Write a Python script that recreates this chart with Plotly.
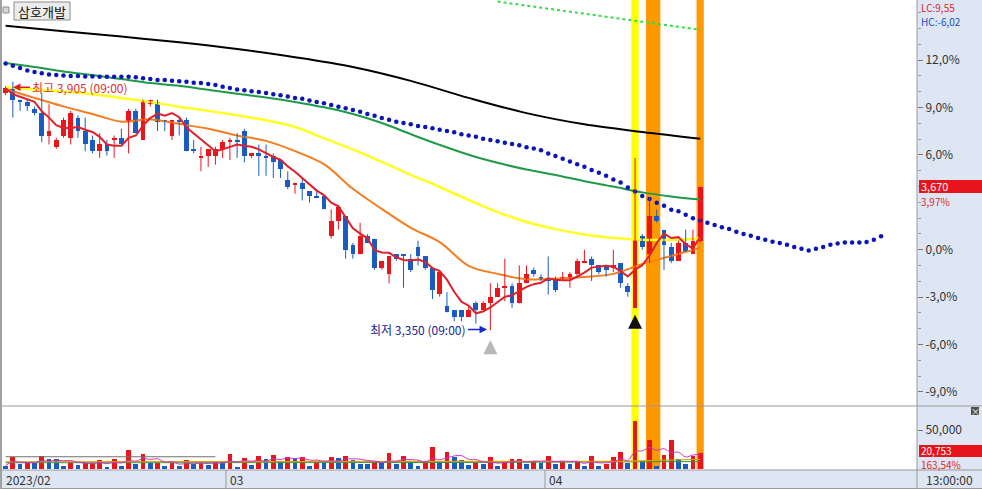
import plotly.graph_objects as go
import pandas as pd

BASE = 3530  # price corresponding to 0,0 %

open_ = [3880, 3890, 3865, 3860, 3845, 3835, 3785, 3760, 3785, 3780,
         3825, 3795, 3775, 3750, 3765, 3775, 3780, 3815, 3840, 3775,
         3855, 3860, 3820, 3785, 3820, 3820, 3755, 3735, 3740, 3740,
         3755, 3770, 3775, 3795, 3740, 3745, 3740, 3740, 3730, 3685,
         3675, 3680, 3660, 3650, 3650, 3560, 3595, 3605, 3540, 3520,
         3560, 3555, 3490, 3475, 3520, 3520, 3510, 3535, 3515, 3490,
         3430, 3405, 3395, 3395, 3380, 3410, 3395, 3410, 3425, 3445,
         3450, 3410, 3455, 3485, 3470, 3465, 3465, 3465, 3465, 3475,
         3500, 3510, 3495, 3495, 3490, 3500, 3450, 3400, 3560, 3520,
         3605, 3575, 3535, 3505, 3545, 3520, 3550]
high = [3895, 3905, 3865, 3865, 3850, 3880, 3855, 3780, 3825, 3840,
        3830, 3825, 3785, 3790, 3775, 3785, 3800, 3845, 3845, 3865,
        3865, 3865, 3820, 3820, 3825, 3825, 3775, 3760, 3755, 3760,
        3775, 3780, 3790, 3800, 3745, 3765, 3765, 3745, 3730, 3705,
        3680, 3690, 3660, 3665, 3650, 3620, 3630, 3605, 3545, 3590,
        3565, 3555, 3505, 3515, 3520, 3520, 3520, 3550, 3515, 3490,
        3485, 3435, 3395, 3395, 3405, 3415, 3415, 3455, 3455, 3510,
        3455, 3495, 3495, 3490, 3475, 3515, 3470, 3480, 3480, 3510,
        3530, 3515, 3495, 3495, 3530, 3500, 3455, 3735, 3565, 3645,
        3620, 3575, 3545, 3550, 3575, 3575, 3670]
low = [3875, 3825, 3840, 3840, 3830, 3770, 3765, 3755, 3780, 3765,
       3780, 3750, 3745, 3735, 3740, 3735, 3765, 3745, 3790, 3775,
       3850, 3795, 3795, 3775, 3785, 3750, 3745, 3705, 3715, 3720,
       3735, 3730, 3735, 3725, 3735, 3695, 3695, 3690, 3690, 3665,
       3655, 3640, 3635, 3645, 3620, 3555, 3575, 3510, 3510, 3520,
       3545, 3485, 3485, 3455, 3505, 3445, 3480, 3495, 3485, 3420,
       3425, 3390, 3370, 3370, 3380, 3365, 3395, 3350, 3425, 3415,
       3400, 3410, 3455, 3470, 3460, 3430, 3435, 3460, 3445, 3470,
       3500, 3460, 3475, 3470, 3480, 3445, 3425, 3400, 3530, 3500,
       3590, 3485, 3500, 3505, 3525, 3520, 3545]
close = [3890, 3865, 3860, 3850, 3835, 3785, 3795, 3775, 3820, 3835,
         3795, 3765, 3750, 3765, 3750, 3780, 3765, 3840, 3790, 3860,
         3865, 3815, 3815, 3820, 3815, 3750, 3750, 3740, 3755, 3755,
         3770, 3775, 3770, 3740, 3745, 3740, 3735, 3725, 3710, 3670,
         3680, 3665, 3650, 3645, 3620, 3595, 3625, 3530, 3520, 3560,
         3545, 3490, 3505, 3515, 3510, 3515, 3485, 3515, 3490, 3440,
         3480, 3390, 3380, 3380, 3395, 3395, 3410, 3425, 3445, 3450,
         3410, 3455, 3475, 3475, 3465, 3460, 3440, 3470, 3475, 3505,
         3505, 3495, 3480, 3485, 3495, 3455, 3435, 3555, 3535, 3605,
         3595, 3540, 3505, 3545, 3525, 3550, 3670]
volume = [4200, 14900, 6400, 8000, 7300, 16500, 12700, 12300, 3800, 9300,
          5100, 7600, 8300, 11500, 2200, 13100, 4200, 24200, 6400, 19100,
          7600, 8000, 3800, 8000, 3800, 11500, 6400, 8000, 4700, 9300,
          8900, 19100, 2900, 13600, 5100, 16500, 12300, 17800, 9300, 14900,
          12700, 15700, 4200, 9300, 8900, 14900, 13600, 16500, 11500, 6400,
          6100, 10200, 7300, 20800, 6400, 16500, 9300, 3800, 9300, 28000,
          8900, 21600, 15700, 11500, 5100, 7300, 6400, 14900, 3800, 9300,
          12300, 12600, 6400, 10200, 7300, 16500, 6400, 10200, 6400, 9300,
          3800, 16500, 3800, 6400, 14900, 21600, 8000, 61500, 10200, 36900,
          3800, 17800, 36900, 12300, 6400, 16500, 20753]

# sampled indicator lines (bar index, price)
ma_orange_x = [0, 4, 8, 12, 16, 20, 24, 28, 32, 36, 40, 44, 48, 52, 56, 60,
               64, 68, 72, 76, 80, 84, 88, 92, 96]
ma_orange = [3889, 3869, 3850, 3833, 3816, 3821, 3811, 3800, 3785, 3773, 3750,
             3721, 3666, 3621, 3579, 3547, 3494, 3476, 3464, 3465, 3469, 3476,
             3498, 3516, 3534]
ma_yellow_x = ma_orange_x
ma_yellow = [3893, 3888, 3883, 3877, 3869, 3860, 3849, 3840, 3830, 3819, 3804,
             3779, 3754, 3726, 3697, 3670, 3641, 3614, 3592, 3576, 3564, 3556,
             3552, 3552, 3555]
ma_green_x = ma_orange_x
ma_green = [3947, 3938, 3928, 3920, 3911, 3902, 3896, 3887, 3878, 3870, 3860,
            3848, 3833, 3813, 3788, 3764, 3742, 3724, 3709, 3697, 3683, 3671,
            3658, 3649, 3642]
ma_black_x = [0, 8, 16, 24, 32, 40, 48, 56, 64, 72, 80, 88, 96]
ma_black = [4030, 4018, 4006, 3993, 3978, 3960, 3938, 3907, 3869, 3835, 3810,
            3793, 3778]
# leading (shifted) dotted line, one dot per bar, index 0..121
lead_blue = [3946, 3941, 3936, 3930, 3927, 3924, 3921, 3920, 3919, 3918,
             3918, 3917, 3917, 3916, 3916, 3916, 3916, 3916, 3915, 3913,
             3911, 3909, 3909, 3907, 3906, 3905, 3903, 3902, 3900, 3898,
             3894, 3891, 3888, 3886, 3884, 3882, 3880, 3877, 3875, 3872,
             3869, 3867, 3863, 3860, 3857, 3853, 3849, 3846, 3842, 3838,
             3833, 3829, 3824, 3820, 3816, 3813, 3810, 3806, 3804, 3801,
             3798, 3795, 3792, 3788, 3785, 3782, 3778, 3775, 3772, 3769,
             3766, 3763, 3759, 3756, 3752, 3745, 3739, 3733, 3727, 3721,
             3715, 3708, 3702, 3695, 3687, 3680, 3669, 3660, 3650, 3643,
             3635, 3628, 3619, 3616, 3608, 3600, 3595, 3590, 3585, 3580,
             3576, 3570, 3565, 3561, 3556, 3552, 3548, 3545, 3541, 3536,
             3532, 3528, 3532, 3536, 3541, 3544, 3546, 3546, 3546, 3547,
             3552, 3560]
lead_green_x = [68, 76, 84, 92, 96]
lead_green = [4084, 4066, 4047, 4030, 4021]
vol_gray_x = [0, 29]
vol_gray = [15700, 15700]
vol_olive_x = [0, 30, 60, 85, 96]
vol_olive = [9300, 9300, 9500, 9800, 12500]
vol_green_x = [0, 30, 60, 96]
vol_green = [8000, 8200, 8300, 9500]

pct_ticks = [12, 9, 6, 3, 0, -3, -6, -9]
# the 3,0% label sits under the 3,97% marker in the original
pct_labels = ["12,0%", "9,0%", "6,0%", "", "0,0%", "-3,0%", "-6,0%", "-9,0%"]
month_labels = ["2023/02", "03", "04"]
month_pos_px = [5, 229, 548]

RED = "#e8161c"
BLUE = "#1a5cc0"
AXBG = "#dde6f2"
KFONT = "Noto Sans CJK KR"

n = len(close)
idx = list(range(n))
ma5 = pd.Series(close).rolling(5, min_periods=1).mean().tolist()
vol_ma5 = pd.Series(volume).rolling(5, min_periods=1).mean().tolist()

fig = go.Figure()

# candle bodies
for up, col in [(True, RED), (False, BLUE)]:
    xs, base, h = [], [], []
    for i in idx:
        is_up = close[i] >= open_[i]
        if is_up == up:
            xs.append(i)
            base.append(min(open_[i], close[i]))
            h.append(max(abs(close[i] - open_[i]), 3))
    fig.add_trace(go.Bar(x=xs, y=h, base=base, width=0.66, marker_color=col,
                         marker_line_width=0, yaxis="y"))
# volume
vcol = [BLUE] + [RED if volume[i] >= volume[i - 1] else BLUE for i in range(1, n)]
fig.add_trace(go.Bar(x=idx, y=volume, width=0.66, marker_color=vcol,
                     marker_line_width=0, yaxis="y2"))

# MAs
fig.add_trace(go.Scatter(x=ma_black_x, y=ma_black, mode="lines", line=dict(color="#000000", width=2, shape="spline")))
fig.add_trace(go.Scatter(x=ma_green_x, y=ma_green, mode="lines", line=dict(color="#1f9a48", width=2, shape="spline")))
fig.add_trace(go.Scatter(x=ma_yellow_x, y=ma_yellow, mode="lines", line=dict(color="#ffff22", width=2.5, shape="spline")))
fig.add_trace(go.Scatter(x=ma_orange_x, y=ma_orange, mode="lines", line=dict(color="#f57c1f", width=2, shape="spline")))
fig.add_trace(go.Scatter(x=lead_green_x, y=lead_green, mode="lines", line=dict(color="#33dd44", width=2, dash="dot")))
fig.add_trace(go.Scatter(x=list(range(len(lead_blue))), y=lead_blue, mode="markers",
                         marker=dict(color="#0c16b8", size=4.5)))

# wicks
for up, col in [(True, RED), (False, BLUE)]:
    wx, wy = [], []
    for i in idx:
        if (close[i] >= open_[i]) == up:
            wx += [i, i, None]
            wy += [low[i], high[i], None]
    fig.add_trace(go.Scatter(x=wx, y=wy, mode="lines", line=dict(color=col, width=1)))

fig.add_trace(go.Scatter(x=idx, y=ma5, mode="lines", line=dict(color="#e0202a", width=2)))

# volume lines
fig.add_trace(go.Scatter(x=vol_gray_x, y=vol_gray, mode="lines", yaxis="y2", line=dict(color="#707070", width=1)))
fig.add_trace(go.Scatter(x=vol_green_x, y=vol_green, mode="lines", yaxis="y2", line=dict(color="#2a9a40", width=1)))
fig.add_trace(go.Scatter(x=vol_olive_x, y=vol_olive, mode="lines", yaxis="y2", line=dict(color="#d8a000", width=1.2)))
fig.add_trace(go.Scatter(x=idx, y=vol_ma5, mode="lines", yaxis="y2", line=dict(color="#cc33cc", width=1, shape="spline")))

PH = 469.0
W = 917.0
def py(p):
    return (PH - p) / PH
def px(p):
    return p / W

shapes = []
# highlight bands
for a, b, c in [(86.5, 87.5, "#ffff00"), (88.5, 90.5, "#ff9900"), (95.5, 96.5, "#ff9900")]:
    shapes.append(dict(type="rect", xref="x", yref="paper", x0=a, x1=b, y0=0, y1=1,
                       fillcolor=c, line=dict(width=0), layer="below"))
# axis backgrounds
shapes.append(dict(type="rect", xref="paper", yref="paper", x0=1, x1=982 / W, y0=py(489), y1=1,
                   fillcolor=AXBG, line=dict(width=0), layer="below"))
shapes.append(dict(type="rect", xref="paper", yref="paper", x0=0, x1=1, y0=py(489), y1=py(470),
                   fillcolor=AXBG, line=dict(width=0), layer="below"))
# separators
line_c = "#9a9a9a"
shapes.append(dict(type="line", xref="paper", yref="paper", x0=0, x1=982 / W, y0=py(406), y1=py(406), line=dict(color=line_c, width=1)))
shapes.append(dict(type="line", xref="paper", yref="paper", x0=0, x1=982 / W, y0=py(470), y1=py(470), line=dict(color=line_c, width=1)))
shapes.append(dict(type="line", xref="paper", yref="paper", x0=0, x1=982 / W, y0=py(488.5), y1=py(488.5), line=dict(color=line_c, width=1)))
shapes.append(dict(type="line", xref="paper", yref="paper", x0=1, x1=1, y0=py(489), y1=1, line=dict(color=line_c, width=1)))
shapes.append(dict(type="line", xref="paper", yref="paper", x0=px(1), x1=px(1), y0=py(489), y1=1, line=dict(color="#a0a0a0", width=2)))
for sx in [226, 545]:
    shapes.append(dict(type="line", xref="paper", yref="paper", x0=px(sx), x1=px(sx), y0=py(489), y1=py(470), line=dict(color=line_c, width=1)))
# title box
shapes.append(dict(type="rect", xref="paper", yref="paper", x0=px(14), x1=px(70), y0=py(20), y1=py(2),
                   fillcolor="#ececec", line=dict(color="#8c8c8c", width=1)))
shapes.append(dict(type="rect", xref="paper", yref="paper", x0=px(3), x1=px(9), y0=py(13), y1=py(7),
                   fillcolor="#d8d8d8", line=dict(color="#888888", width=1)))
# price / volume boxes
shapes.append(dict(type="rect", xref="paper", yref="paper", x0=px(919), x1=982 / W, y0=py(193), y1=py(180),
                   fillcolor="#e8141c", line=dict(width=0)))
shapes.append(dict(type="rect", xref="paper", yref="paper", x0=px(919), x1=982 / W, y0=py(457), y1=py(445),
                   fillcolor="#e8141c", line=dict(width=0)))
shapes.append(dict(type="rect", xref="paper", yref="paper", x0=px(971), x1=px(979), y0=py(415), y1=py(407),
                   fillcolor="#505050", line=dict(width=0)))

ann = []
def txt(x, y, t, color="#333333", size=12, xanchor="left", font=KFONT):
    ann.append(dict(xref="paper", yref="paper", x=px(x), y=py(y), text=t, showarrow=False,
                    xanchor=xanchor, yanchor="middle", borderpad=0,
                    font=dict(family=font, size=size, color=color)))

txt(42, 11, "삼호개발", "#111111", 13, "center")
txt(920, 7, "LC:9,55", "#e02828", 10)
txt(920, 21.5, "HC:-6,02", "#2050c0", 10)
txt(920, 186, "3,670", "#ffffff", 11)
txt(920, 201, "3,97%", "#e02828", 10)
txt(920, 450.5, "20,753", "#ffffff", 10)
txt(920, 464, "163,54%", "#e02828", 10)
txt(975, 411, "×", "#ffffff", 9, "center")
for t, p in zip(month_labels, month_pos_px):
    txt(p, 479.5, t, "#333333", 12)
txt(925, 479.5, "13:00:00", "#333333", 12)

# high / low markers
ann.append(dict(x=1.02, y=3893, xref="x", yref="y", text="최고 3,905 (09:00)", showarrow=True,
                ax=17, ay=0, xanchor="left", arrowhead=2, arrowsize=1, arrowwidth=1.5,
                arrowcolor="#e02020", font=dict(family=KFONT, size=12, color="#e03030")))
ann.append(dict(x=66.55, y=3352, xref="x", yref="y", text="최저 3,350 (09:00)", showarrow=True,
                ax=-19, ay=0, xanchor="right", arrowhead=2, arrowsize=1, arrowwidth=1.5,
                arrowcolor="#1428d0", font=dict(family=KFONT, size=12, color="#1a1a9a")))
ann.append(dict(x=67, y=3328, xref="x", yref="y", text="", showarrow=True, ax=0, ay=10,
                arrowhead=2, arrowsize=0.7, arrowwidth=4, arrowcolor="#b8b8b8"))
ann.append(dict(x=87, y=3385, xref="x", yref="y", text="", showarrow=True, ax=0, ay=9,
                arrowhead=2, arrowsize=0.7, arrowwidth=4, arrowcolor="#111111"))

tickprices = [BASE * (1 + p / 100) for p in pct_ticks]

fig.update_layout(
    width=982, height=489, margin=dict(l=0, r=65, t=0, b=20),
    paper_bgcolor="white", plot_bgcolor="white", showlegend=False,
    barmode="overlay", bargap=0,
    xaxis=dict(range=[-0.774, 125.97], showticklabels=False, showgrid=False, zeroline=False,
               ticks="", showline=False, fixedrange=True),
    yaxis=dict(domain=[py(405), 1], range=[3183.2, 4087.6], side="right", showgrid=False,
               zeroline=False, tickvals=tickprices, ticktext=pct_labels, ticks="outside",
               ticklen=5, tickcolor="#777777",
               minor=dict(tickvals=[BASE * (1 + p / 100) for p in range(-10, 16)],
                          ticks="outside", ticklen=3, tickcolor="#999999"),
               tickfont=dict(family=KFONT, size=12, color="#333333")),
    yaxis2=dict(domain=[0, py(407)], range=[0, 79500], side="right", anchor="x", showgrid=False,
                zeroline=False, tickvals=[50000], ticktext=["50,000"], ticks="outside", ticklen=5,
                tickcolor="#777777",
                tickfont=dict(family=KFONT, size=12, color="#333333")),
    shapes=shapes, annotations=ann,
)

fig.write_html("out.html", config={"displayModeBar": False},
               post_script="document.body.style.margin='0';document.body.style.overflow='hidden';")
